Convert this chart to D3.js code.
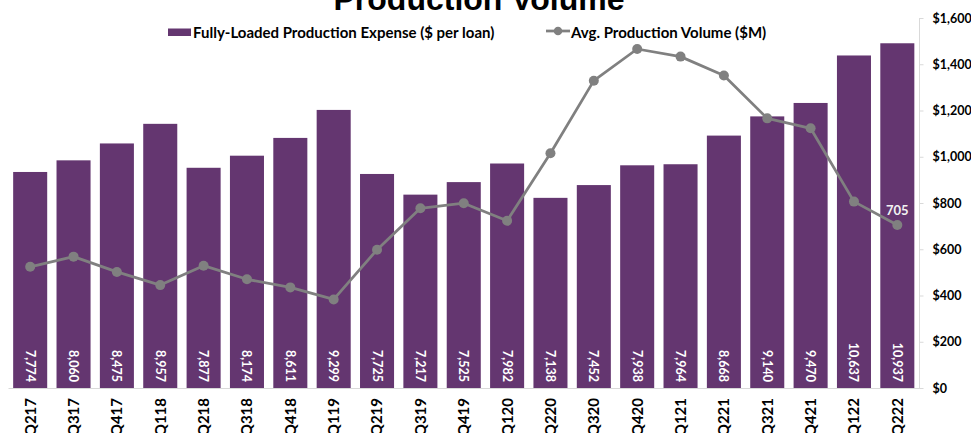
<!DOCTYPE html>
<html>
<head>
<meta charset="utf-8">
<script src="https://cdn.jsdelivr.net/npm/d3@7"></script>
<style>
  html, body { margin: 0; padding: 0; background: #fff; overflow: hidden; }
  svg { display: block; }
</style>
</head>
<body>
<svg id="chart" width="971" height="433"></svg>
<script>
// Quarters shown along the bottom
const quarters = ["Q217","Q317","Q417","Q118","Q218","Q318","Q418","Q119","Q219","Q319","Q419",
                  "Q120","Q220","Q320","Q420","Q121","Q221","Q321","Q421","Q122","Q222"];

// Fully-loaded production expense, $ per loan (bars)
const expensePerLoan = [7774, 8060, 8475, 8957, 7877, 8174, 8611, 9299, 7725, 7217, 7525,
                        7982, 7138, 7452, 7938, 7964, 8668, 9140, 9470, 10637, 10937];

// Average production volume, $M (line)
const avgVolume = [524, 568, 502, 445, 529, 470, 435, 383, 598, 777, 799,
                   723, 1015, 1329, 1466, 1433, 1351, 1166, 1123, 806, 705];

// Right-hand axis ticks ($M)
const volumeTicks = [0, 200, 400, 600, 800, 1000, 1200, 1400, 1600];

const chartTitle = "Production Volume";
const barLegend = "Fully-Loaded Production Expense ($ per loan)";
const lineLegend = "Avg. Production Volume ($M)";

const BAR_COLOR = "#643670";
const LINE_COLOR = "#808080";
const AXIS_COLOR = "#d9d9d9";
const FONT = "Lato, 'Open Sans', sans-serif";

const svg = d3.select("#chart");

const plot = { left: 8.5, right: 919, top: 18, bottom: 388 };

const x = d3.scaleBand()
  .domain(quarters)
  .range([plot.left, plot.right])
  .paddingInner(0.215)
  .paddingOuter(0.1075);

// Hidden primary axis for the bars
const yBar = d3.scaleLinear().domain([2465, 11558]).range([plot.bottom, plot.top]);
// Secondary axis on the right for the line
const yVol = d3.scaleLinear().domain([0, 1600]).range([plot.bottom, plot.top]);

// Title
svg.append("text")
  .attr("x", 479).attr("y", 10)
  .attr("text-anchor", "middle")
  .attr("font-family", "'Liberation Sans', Arial, sans-serif")
  .attr("font-weight", "bold")
  .attr("font-size", 32)
  .attr("fill", "#000")
  .text(chartTitle);

// Bars
svg.append("g").selectAll("rect")
  .data(quarters)
  .join("rect")
  .attr("x", d => x(d))
  .attr("width", x.bandwidth())
  .attr("y", (d, i) => yBar(expensePerLoan[i]))
  .attr("height", (d, i) => plot.bottom - yBar(expensePerLoan[i]))
  .attr("fill", BAR_COLOR);

// Bar value labels, rotated, near the base
svg.append("g").selectAll("text")
  .data(quarters)
  .join("text")
  .attr("transform", d => `translate(${x(d) + x.bandwidth() / 2},382) rotate(90)`)
  .attr("text-anchor", "end")
  .attr("dy", "0.36em")
  .attr("font-family", FONT)
  .attr("font-weight", "bold")
  .attr("font-size", 12.5)
  .attr("fill", "#fff")
  .text((d, i) => d3.format(",")(expensePerLoan[i]));

// Category baseline
svg.append("line")
  .attr("x1", plot.left).attr("x2", plot.right + 1)
  .attr("y1", plot.bottom + 0.5).attr("y2", plot.bottom + 0.5)
  .attr("stroke", AXIS_COLOR).attr("stroke-width", 1);

// Right axis
const rightAxis = d3.axisRight(yVol)
  .tickValues(volumeTicks)
  .tickSize(4)
  .tickPadding(9)
  .tickFormat(d => "$" + d3.format(",")(d));

const ra = svg.append("g")
  .attr("transform", `translate(${plot.right + 0.5},0)`)
  .call(rightAxis);
ra.select(".domain").attr("stroke", AXIS_COLOR).attr("d", `M0,${plot.top}V${plot.bottom}`);
ra.selectAll(".tick line").attr("stroke", AXIS_COLOR);
ra.selectAll(".tick text")
  .attr("font-family", FONT)
  .attr("font-weight", "bold")
  .attr("font-size", 12.5)
  .attr("fill", "#000");

// Category labels, rotated
svg.append("g").selectAll("text")
  .data(quarters)
  .join("text")
  .attr("transform", d => `translate(${x(d) + x.bandwidth() / 2},398) rotate(-90)`)
  .attr("text-anchor", "end")
  .attr("dy", "0.36em")
  .attr("font-family", FONT)
  .attr("font-weight", "bold")
  .attr("font-size", 15)
  .attr("fill", "#000")
  .text(d => d);

// Volume line
const line = d3.line()
  .x((d, i) => x(quarters[i]) + x.bandwidth() / 2)
  .y(d => yVol(d));

svg.append("path")
  .datum(avgVolume)
  .attr("d", line)
  .attr("fill", "none")
  .attr("stroke", LINE_COLOR)
  .attr("stroke-width", 2.75)
  .attr("stroke-linejoin", "round");

svg.append("g").selectAll("circle")
  .data(avgVolume)
  .join("circle")
  .attr("cx", (d, i) => x(quarters[i]) + x.bandwidth() / 2)
  .attr("cy", d => yVol(d))
  .attr("r", 5)
  .attr("fill", LINE_COLOR);

// Label on the latest point
const last = avgVolume.length - 1;
svg.append("text")
  .attr("x", x(quarters[last]) + x.bandwidth() / 2)
  .attr("y", yVol(avgVolume[last]) - 10)
  .attr("text-anchor", "middle")
  .attr("font-family", FONT)
  .attr("font-weight", "bold")
  .attr("font-size", 13)
  .attr("fill", "#f2f2f2")
  .text(d3.format(",")(avgVolume[last]));

// Legend
const lg = svg.append("g");
lg.append("rect")
  .attr("x", 168).attr("y", 28.5).attr("width", 23).attr("height", 7.5)
  .attr("fill", BAR_COLOR);
lg.append("text")
  .attr("x", 193).attr("y", 32.5).attr("dy", "0.35em")
  .attr("font-family", FONT).attr("font-weight", "bold").attr("font-size", 15)
  .attr("fill", "#000")
  .text(barLegend);
lg.append("line")
  .attr("x1", 546).attr("x2", 570).attr("y1", 31).attr("y2", 31)
  .attr("stroke", LINE_COLOR).attr("stroke-width", 2.75);
lg.append("circle")
  .attr("cx", 558).attr("cy", 31).attr("r", 4.25).attr("fill", LINE_COLOR);
lg.append("text")
  .attr("x", 571).attr("y", 32.5).attr("dy", "0.35em")
  .attr("font-family", FONT).attr("font-weight", "bold").attr("font-size", 15)
  .attr("fill", "#000")
  .text(lineLegend);
</script>
</body>
</html>
